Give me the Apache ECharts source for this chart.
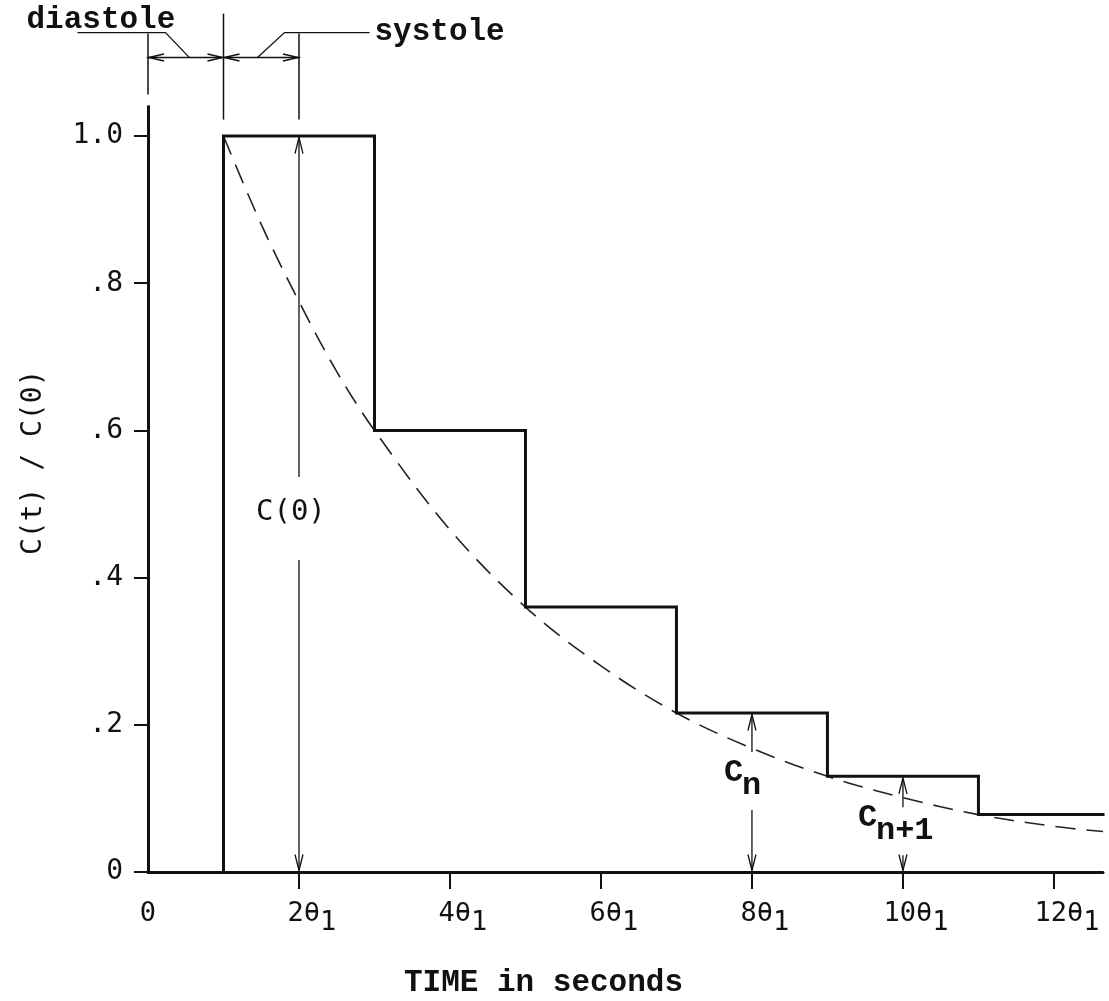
<!DOCTYPE html>
<html>
<head>
<meta charset="utf-8">
<script src="https://cdn.jsdelivr.net/npm/echarts@6/dist/echarts.min.js"></script>
<style>
  html, body { margin: 0; padding: 0; background: #fff; }
  #chart { width: 1109px; height: 1001px; }
</style>
</head>
<body>
<div id="chart"></div>
<script>
// Time is measured in multiples of θ1; concentration is normalised to C(0).
const xTickValues = [0, 2, 4, 6, 8, 10, 12];
const xTickMarks = [2, 4, 6, 8, 10, 12];
const yTickValues = [0, 0.2, 0.4, 0.6, 0.8, 1.0];
const yTickLabels = ['0', '.2', '.4', '.6', '.8', '1.0'];

// Staircase: each ejection starts a new plateau
const pulseStarts = [1, 3, 5, 7, 9, 11];
const pulseLevels = [1.0, 0.6, 0.36, 0.216, 0.13, 0.078];
const traceEnd = 12.65;

// Continuous washout curve (dashed)
const decayTimes  = [1, 1.5, 2, 2.5, 3, 4, 5, 6, 7, 8, 9, 10, 11, 12, 12.65];
const decayValues = [1.0, 0.88, 0.775, 0.68, 0.6, 0.465, 0.36, 0.28, 0.216, 0.168, 0.13, 0.101, 0.078, 0.062, 0.055];

// Cardiac phases shown above the plot
const phaseNames = ['diastole', 'systole'];
const phaseBounds = [0, 1, 2];

// Dimension arrows with their labels
const markerTimes = [2, 8, 10];
const markerTexts = ['C(0)', 'C', 'C'];
const markerSubs = ['', 'n', 'n+1'];
const markerLabelLevels = [0.489, 0.1345, 0.073];

const Y_MAX = 1.04;
const INK = '#111';
const LETTER_FONT = '"DejaVu Sans Mono", monospace';
const TYPE_FONT = '"Liberation Mono", "Courier New", monospace';

function levelAt(t) {
  let v = 0;
  pulseStarts.forEach((s, i) => { if (t >= s) v = pulseLevels[i]; });
  return v;
}

// Build staircase vertices
const stairs = [[pulseStarts[0], 0]];
pulseStarts.forEach((s, i) => {
  const next = i + 1 < pulseStarts.length ? pulseStarts[i + 1] : traceEnd;
  stairs.push([s, pulseLevels[i]]);
  stairs.push([next, pulseLevels[i]]);
});

const decay = decayTimes.map((t, i) => [t, decayValues[i]]);

// Layout of the arrow labels (pixel offsets)
const markerLayout = [
  { dx: -43, gapAbove: 35, gapBelow: 48, font: LETTER_FONT, size: 29, weight: 'normal' },
  { dx: -28, gapAbove: 21, gapBelow: 37, font: TYPE_FONT, size: 32, weight: 'bold' },
  { dx: -45, gapAbove: 11, gapBelow: 37, font: TYPE_FONT, size: 32, weight: 'bold' }
];
// Extent of each phase boundary line above the axis top (pixels)
const boundaryLayout = [
  { top: -73, bottom: -12 },
  { top: -93, bottom: 13 },
  { top: -73, bottom: 13 }
];

function vHead(x, y, dir) {
  // open arrow head, dir = -1 points up, +1 points down
  return { type: 'polyline', shape: { points: [[x - 4, y - dir * 16], [x, y], [x + 4, y - dir * 16]] },
           style: { stroke: INK, fill: null, lineWidth: 1.3 } };
}
function hHead(x, y, dir) {
  // dir = -1 points left, +1 points right
  return { type: 'polyline', shape: { points: [[x - dir * 15, y - 3.5], [x, y], [x - dir * 15, y + 3.5]] },
           style: { stroke: INK, fill: null, lineWidth: 1.5 } };
}
function seg(x1, y1, x2, y2, w) {
  return { type: 'line', shape: { x1, y1, x2, y2 }, style: { stroke: INK, lineWidth: w || 1.3 } };
}

const chart = echarts.init(document.getElementById('chart'), null, { renderer: 'canvas' });

chart.setOption({
  animation: false,
  backgroundColor: '#fff',
  grid: { left: 148, top: 106.6, width: 955, height: 765.4, containLabel: false, outerBoundsMode: 'none' },
  xAxis: {
    type: 'value', min: 0, max: traceEnd,
    name: 'TIME in seconds', nameLocation: 'middle', nameGap: 96,
    nameTextStyle: { fontFamily: TYPE_FONT, fontSize: 31, fontWeight: 'bold', color: INK, padding: [0, 164, 0, 0] },
    axisLine: { lineStyle: { color: INK, width: 3 } },
    axisTick: { show: true, customValues: xTickMarks, length: 17, lineStyle: { color: INK, width: 2 } },
    axisLabel: {
      customValues: xTickValues, margin: 28, color: INK,
      formatter: v => v === 0 ? '{z|0}' : '{m|' + v + 'θ}{s|1}',
      rich: {
        z: { fontFamily: LETTER_FONT, fontSize: 27, verticalAlign: 'top' },
        m: { fontFamily: LETTER_FONT, fontSize: 27, verticalAlign: 'top', padding: [0, 0, 0, 26] },
        s: { fontFamily: LETTER_FONT, fontSize: 27, verticalAlign: 'top', padding: [9, 0, 0, 0] }
      }
    },
    splitLine: { show: false }
  },
  yAxis: {
    type: 'value', min: 0, max: Y_MAX,
    name: 'C(t) / C(0)', nameLocation: 'middle', nameGap: 100,
    nameTextStyle: { fontFamily: LETTER_FONT, fontSize: 28, color: INK, padding: [0, 0, 0, 54] },
    axisLine: { lineStyle: { color: INK, width: 3 } },
    axisTick: { show: true, customValues: yTickValues, length: 14, lineStyle: { color: INK, width: 2 } },
    axisLabel: {
      customValues: yTickValues, margin: 25, color: INK,
      fontFamily: LETTER_FONT, fontSize: 28,
      formatter: v => {
        const i = yTickValues.findIndex(y => Math.abs(y - v) < 1e-6);
        return i >= 0 ? yTickLabels[i] : '';
      }
    },
    splitLine: { show: false }
  },
  series: [
    {
      name: 'staircase', type: 'line', data: stairs, symbol: 'none',
      lineStyle: { color: INK, width: 3, join: 'miter', cap: 'square' }, z: 3
    },
    {
      name: 'washout', type: 'line', data: decay, symbol: 'none', smooth: 0.35,
      lineStyle: { color: '#222', width: 1.6, type: [20, 11] }, z: 2
    },
    {
      name: 'dimension arrows', type: 'custom', clip: false, z: 4,
      data: markerTimes.map((t, i) => [t, levelAt(t), markerLabelLevels[i]]),
      encode: { x: 0, y: 1 },
      renderItem: (params, api) => {
        const i = params.dataIndex;
        const L = markerLayout[i];
        const t = api.value(0);
        const top = api.coord([t, api.value(1)]);
        const base = api.coord([t, 0]);
        const lab = api.coord([t, api.value(2)]);
        const x = top[0];
        const children = [
          seg(x, top[1] + 1.5, x, lab[1] - L.gapAbove),
          seg(x, lab[1] + L.gapBelow, x, base[1] - 1.5),
          vHead(x, top[1] + 1.5, -1),
          vHead(x, base[1] - 1.5, 1),
          { type: 'text', x: x + L.dx, y: lab[1],
            style: { text: markerTexts[i], fontFamily: L.font, fontSize: L.size, fontWeight: L.weight,
                     fill: INK, align: 'left', verticalAlign: 'middle' } }
        ];
        if (markerSubs[i]) {
          children.push({ type: 'text', x: x + L.dx + 18, y: lab[1] + 13,
            style: { text: markerSubs[i], fontFamily: L.font, fontSize: L.size, fontWeight: L.weight,
                     fill: INK, align: 'left', verticalAlign: 'middle' } });
        }
        return { type: 'group', children };
      }
    },
    {
      name: 'phase boundaries', type: 'custom', clip: false, z: 4,
      data: phaseBounds.map(t => [t, Y_MAX]),
      encode: { x: 0, y: 1 },
      renderItem: (params, api) => {
        const p = api.coord([api.value(0), api.value(1)]);
        const L = boundaryLayout[params.dataIndex];
        return seg(p[0], p[1] + L.top, p[0], p[1] + L.bottom, 1.5);
      }
    },
    {
      name: 'phases', type: 'custom', clip: false, z: 4,
      data: phaseNames.map((n, i) => [phaseBounds[i], Y_MAX, phaseBounds[i + 1]]),
      encode: { x: 0, y: 1 },
      renderItem: (params, api) => {
        const i = params.dataIndex;
        const a = api.coord([api.value(0), api.value(1)]);
        const b = api.coord([api.value(2), api.value(1)]);
        const yA = a[1] - 49;      // level of the double arrow
        const yL = a[1] - 74;      // level of the leader shelf
        const children = [
          seg(a[0], yA, b[0], yA, 1.5),
          hHead(a[0] + 1, yA, -1),
          hHead(b[0] - 1, yA, 1)
        ];
        if (i === 0) {
          // leader from the label down to the diastole span
          children.push({ type: 'polyline',
            shape: { points: [[b[0] - 146, yL], [b[0] - 58, yL], [b[0] - 34, yA]] },
            style: { stroke: INK, fill: null, lineWidth: 1.3 } });
          children.push({ type: 'text', x: b[0] - 197, y: yL - 12,
            style: { text: phaseNames[i], fontFamily: TYPE_FONT, fontSize: 31, fontWeight: 'bold',
                     fill: INK, align: 'left', verticalAlign: 'middle' } });
        } else {
          children.push({ type: 'polyline',
            shape: { points: [[a[0] + 34, yA], [a[0] + 61, yL], [a[0] + 146, yL]] },
            style: { stroke: INK, fill: null, lineWidth: 1.3 } });
          children.push({ type: 'text', x: a[0] + 151, y: yL,
            style: { text: phaseNames[i], fontFamily: TYPE_FONT, fontSize: 31, fontWeight: 'bold',
                     fill: INK, align: 'left', verticalAlign: 'middle' } });
        }
        return { type: 'group', children };
      }
    }
  ]
});
</script>
</body>
</html>
